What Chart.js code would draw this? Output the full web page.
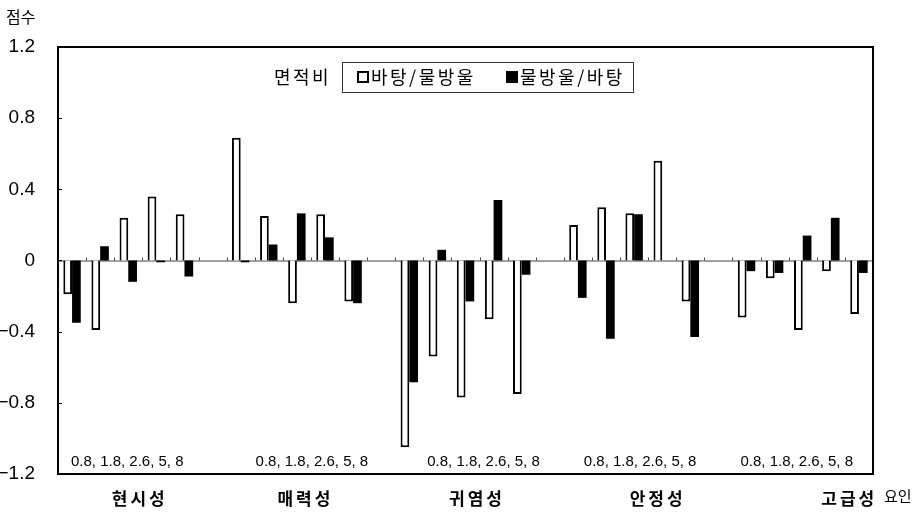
<!DOCTYPE html>
<html><head><meta charset="utf-8">
<script src="https://cdn.jsdelivr.net/npm/chart.js@4.4.1/dist/chart.umd.min.js"></script>
<style>html,body{margin:0;padding:0;background:#fff;} canvas{display:block;}</style>
</head><body>
<canvas id="c" width="914" height="516"></canvas>
<script>
// ---- data ----
const groups = ['현시성', '매력성', '귀염성', '안정성', '고급성'];
const ratios = ['0.8', '1.8', '2.6', '5', '8'];
const seriesNames = ['바탕/물방울', '물방울/바탕'];
const groundOverDrop = [
  -0.19, -0.39, 0.24, 0.36, 0.26,
   0.69,  0.25, -0.24, 0.26, -0.23,
  -1.05, -0.54, -0.77, -0.33, -0.75,
   0.20,  0.30, 0.265, 0.56, -0.23,
  -0.32, -0.10, -0.39, -0.06, -0.30
];
const dropOverGround = [
  -0.35,  0.08, -0.12, -0.01, -0.09,
  -0.01,  0.09, 0.265, 0.13, -0.24,
  -0.685, 0.06, -0.23, 0.34, -0.08,
  -0.21, -0.44, 0.26, 0.00, -0.43,
  -0.06, -0.07, 0.14, 0.24, -0.07
];
const yMin = -1.2, yMax = 1.2, yStep = 0.4;
const yTitle = '점수', xTitle = '요인', legendTitle = '면적비';

// ---- build slots (5 bars per group, one blank slot between groups) ----
const slotLabels = [], slotA = [], slotB = [], groupCenterSlot = [];
groups.forEach((g, gi) => {
  ratios.forEach((r, ri) => {
    if (ri === 2) groupCenterSlot.push(slotLabels.length);
    slotLabels.push(g + ' ' + r);
    slotA.push(groundOverDrop[gi * ratios.length + ri]);
    slotB.push(dropOverGround[gi * ratios.length + ri]);
  });
  if (gi < groups.length - 1) { slotLabels.push(''); slotA.push(null); slotB.push(null); }
});

const KR = '"Noto Sans CJK KR", "Noto Sans", sans-serif';
const LAT = '"Liberation Sans", Arial, sans-serif';

function spacing(ctx, v) { if ('letterSpacing' in ctx) ctx.letterSpacing = v; }

const decor = {
  id: 'decor',
  beforeDatasetsDraw(chart) {
    const {ctx, chartArea: a, scales: {x, y}} = chart;
    const y0 = y.getPixelForValue(0);
    ctx.save();
    ctx.strokeStyle = '#444';
    ctx.lineWidth = 1;
    ctx.beginPath();
    ctx.moveTo(a.left, y0 + 0.5); ctx.lineTo(a.right, y0 + 0.5);
    ctx.stroke();
    // small category ticks on the zero line
    const sw = x.getPixelForValue(1) - x.getPixelForValue(0);
    ctx.beginPath();
    for (let i = 1; i < slotLabels.length; i++) {
      const px = Math.round(x.getPixelForValue(i) - sw / 2) + 0.5;
      ctx.moveTo(px, y0); ctx.lineTo(px, y0 - 3);
    }
    ctx.stroke();
    ctx.restore();
  },
  afterDraw(chart) {
    const {ctx, chartArea: a, scales: {x, y}} = chart;
    ctx.save();
    // frame
    ctx.strokeStyle = '#000';
    ctx.lineWidth = 2;
    ctx.strokeRect(a.left, a.top, a.right - a.left, a.bottom - a.top);
    // inward y ticks
    ctx.lineWidth = 1;
    ctx.beginPath();
    for (let v = yMin; v <= yMax + 1e-9; v += yStep) {
      const py = Math.round(y.getPixelForValue(v)) + 0.5;
      ctx.moveTo(a.left, py); ctx.lineTo(a.left + 4, py);
    }
    ctx.stroke();

    ctx.fillStyle = '#000';
    // axis titles
    ctx.font = '16px ' + KR;
    ctx.textAlign = 'left'; ctx.textBaseline = 'middle';
    ctx.fillText(yTitle, 6, 17);
    ctx.font = '15px ' + KR;
    ctx.fillText(xTitle, 884, 496);

    // ratio labels inside plot and group names below
    const ratioOffset = [-1, 15, 18, 6, -6];
    const nameOffset = [10, 7, 10, 22, 45];
    groupCenterSlot.forEach((s, gi) => {
      const cx = x.getPixelForValue(s);
      ctx.font = '15px ' + LAT;
      ctx.textAlign = 'center'; ctx.textBaseline = 'middle';
      ctx.fillText(ratios.join(', '), cx + ratioOffset[gi], 462);
      ctx.font = 'bold 17px ' + KR;
      spacing(ctx, '3px');
      ctx.fillText(groups[gi], cx + nameOffset[gi] + 1.5, 499);
      spacing(ctx, '0px');
    });

    // legend
    const lx = 342, ly = 62, lw = 291, lh = 30, my = ly + lh / 2;
    ctx.font = '18px ' + KR;
    spacing(ctx, '2.5px');
    ctx.textAlign = 'left';
    ctx.fillText(legendTitle, 274, my);
    ctx.lineWidth = 1;
    ctx.strokeStyle = '#333';
    ctx.strokeRect(lx + 0.5, ly + 0.5, lw, lh);
    const ds = chart.data.datasets;
    const items = [357, 506];
    ds.forEach((d, i) => {
      const sx = items[i];
      if (i === 0) {
        ctx.fillStyle = '#fff'; ctx.fillRect(sx, my - 6, 12, 12);
        ctx.strokeStyle = '#000'; ctx.lineWidth = 2;
        ctx.strokeRect(sx + 1, my - 5, 10, 10);
      } else {
        ctx.fillStyle = '#000'; ctx.fillRect(sx, my - 6, 12, 12);
      }
      ctx.fillStyle = '#000';
      ctx.fillText(d.label, sx + 14, my);
    });
    spacing(ctx, '0px');
    ctx.restore();
  }
};

new Chart(document.getElementById('c'), {
  type: 'bar',
  data: {
    labels: slotLabels,
    datasets: [
      { label: seriesNames[0], data: slotA, backgroundColor: '#fff', borderColor: '#000', borderWidth: 2,
        categoryPercentage: 0.62, barPercentage: 1.0 },
      { label: seriesNames[1], data: slotB, backgroundColor: '#000', borderColor: '#000', borderWidth: 0,
        categoryPercentage: 0.62, barPercentage: 1.0 }
    ]
  },
  options: {
    responsive: false,
    animation: false,
    layout: { padding: { left: 0, top: 47, right: 41, bottom: 34 } },
    plugins: { legend: { display: false }, tooltip: { enabled: false } },
    scales: {
      x: {
        grid: { display: false }, border: { display: false },
        ticks: { display: false }
      },
      y: {
        min: yMin, max: yMax,
        grid: { display: false }, border: { display: false },
        afterFit(s) { s.width = 58; },
        ticks: {
          stepSize: yStep, padding: 15, color: '#000',
          font: { family: LAT, size: 19 },
          callback(v) {
            const r = Math.round(v * 10) / 10;
            if (r === 0) return '0';
            return (r < 0 ? '\u2212' : '') + Math.abs(r).toFixed(1);
          }
        }
      }
    }
  },
  plugins: [decor]
});
</script>
</body></html>
